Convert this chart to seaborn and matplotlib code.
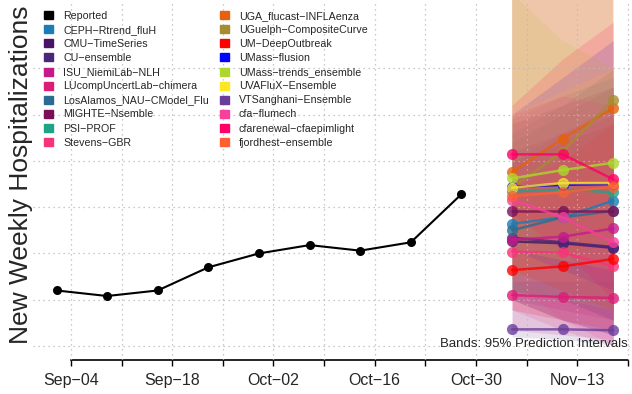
import pandas as pd
import seaborn as sns
import matplotlib.pyplot as plt
import matplotlib.dates as mdates
from matplotlib.patches import Patch

# observed weekly hospital admissions
report_dates = pd.date_range("2023-09-02", periods=9, freq="7D")
reported = [1600, 1540, 1600, 1850, 2000, 2090, 2030, 2120, 2640]

# forecast targets (1-3 weeks ahead)
forecast_dates = pd.to_datetime(["2023-11-04", "2023-11-11", "2023-11-18"])

models = [
    "CEPH-Rtrend_fluH", "CMU-TimeSeries", "CU-ensemble", "ISU_NiemiLab-NLH",
    "LUcompUncertLab-chimera", "LosAlamos_NAU-CModel_Flu", "MIGHTE-Nsemble",
    "PSI-PROF", "Stevens-GBR", "UGA_flucast-INFLAenza", "UGuelph-CompositeCurve",
    "UM-DeepOutbreak", "UMass-flusion", "UMass-trends_ensemble", "UVAFluX-Ensemble",
    "VTSanghani-Ensemble", "cfa-flumech", "cfarenewal-cfaepimlight", "fjordhest-ensemble",
]
model_colors = [
    "#1A7DB5", "#4A1466", "#482878", "#C51B8A",
    "#DD1C77", "#2C6C92", "#7A0F57",
    "#20A386", "#F7347A", "#E6610B", "#A88B30",
    "#FF0000", "#0000FF", "#ADD72E", "#FDE725",
    "#6A3D9A", "#F7409B", "#FF0066", "#FF5E33",
]

# median forecasts
medians = [
    [2320, 2390, 2570], [2130, 2110, 2060], [2170, 2120, 2070], [2150, 2180, 2270],
    [1550, 1530, 1520], [2250, 2390, 2460], [2460, 2460, 2460],
    [2670, 2690, 2660], [2020, 2010, 1860], [2880, 3240, 3570], [2710, 3100, 3660],
    [1820, 1860, 1940], [2720, 2740, 2750], [2810, 2900, 2980], [2710, 2760, 2760],
    [1180, 1180, 1170], [2580, 2390, 2120], [3070, 3070, 2800], [2620, 2660, 2720],
]

# 95% prediction interval bounds
lower95 = [
    [1600, 1500, 1280], [1500, 1280, 1120], [1500, 1280, 1120], [1500, 1390, 1280],
    [1170, 1120, 1070], [1600, 1500, 1280], [1820, 1600, 1390],
    [2150, 2040, 1930], [1390, 1170, 1010], [2250, 2420, 2580], [1710, 1930, 2250],
    [1390, 1280, 1170], [2040, 1820, 1600], [1600, 1500, 1390], [2040, 1930, 1820],
    [1100, 1070, 1010], [1710, 1280, 1010], [2420, 2040, 1500], [1820, 1600, 1390],
]
upper95 = [
    [3300, 3600, 3990], [3000, 3200, 3400], [3100, 3300, 3500], [3000, 3300, 3600],
    [2400, 2600, 2800], [3200, 3500, 3800], [3400, 3600, 3800],
    [3450, 3700, 3900], [2900, 3200, 3500], [5000, 6400, 10140], [5200, 6000, 9060],
    [2700, 3000, 3400], [3500, 3900, 4300], [4800, 4300, 4000], [3500, 3750, 4000],
    [1700, 1700, 1700], [3500, 3700, 3600], [3600, 4100, 4500], [4800, 5500, 6500],
]

week_ticks = pd.date_range("2023-09-04", "2023-11-20", freq="7D")
grid_levels = list(range(1000, 4001, 500))

sns.set_theme(style="white")
plt.rcParams["font.family"] = ["Liberation Sans", "DejaVu Sans"]

fig = plt.figure(figsize=(6.32, 3.94), dpi=100)
ax = fig.add_axes([33 / 632, 34 / 394, 1 - 33 / 632, 360 / 394])

# prediction bands first, then medians on top
for i in range(len(models)):
    ax.fill_between(forecast_dates, lower95[i], upper95[i],
                    color=model_colors[i], alpha=0.15, lw=0, zorder=1)

for i in range(len(models)):
    sns.lineplot(x=forecast_dates, y=medians[i], color=model_colors[i], lw=1.8,
                 alpha=0.8, marker="o", markersize=8, markeredgewidth=0,
                 ax=ax, zorder=3)

sns.lineplot(x=report_dates, y=reported, color="black", lw=1.5, marker="o",
             markersize=6.5, markeredgewidth=0, ax=ax, zorder=4)

ax.set_xlim(pd.Timestamp("2023-08-29 18:00"), pd.Timestamp("2023-11-20 14:00"))
ax.set_ylim(849, 4737)

labels = [f"{d:%b}\u2212{d:%d}" if k % 2 == 0 else "" for k, d in enumerate(week_ticks)]
ax.set_xticks(week_ticks)
ax.set_xticklabels(labels, fontsize=11.5)
ax.set_yticks(grid_levels)
ax.set_yticklabels([])
ax.tick_params(axis="y", length=0)
ax.tick_params(axis="x", bottom=True, length=4.5, width=1, color="black", pad=5)

for side in ["top", "right", "left"]:
    ax.spines[side].set_visible(False)
ax.spines["bottom"].set_color("black")
ax.spines["bottom"].set_linewidth(1.2)
ax.spines["bottom"].set_bounds(mdates.date2num(week_ticks[0]), mdates.date2num(week_ticks[-1]))

ax.set_axisbelow(False)
ax.grid(True, color="#b8b8b8", linestyle=(0, (1, 3)), lw=0.9, zorder=2)

ax.set_xlabel("")
ax.set_ylabel("New Weekly Hospitalizations", fontsize=19)
ax.yaxis.set_label_coords(0.0, 0.514)

ax.text(0.993, 0.044, "Bands: 95% Prediction Intervals", transform=ax.transAxes,
        ha="right", va="center", fontsize=9.5)

handles = [Patch(color="black", label="Reported")]
handles += [Patch(color=c, label=m.replace("-", "\u2212")) for m, c in zip(models, model_colors)]
ax.legend(handles=handles, loc="upper left", bbox_to_anchor=(44 / 632, 1 - 11 / 394),
          bbox_transform=fig.transFigure, ncol=2, frameon=False, fontsize=7.7,
          handlelength=0.85, handleheight=0.78, handletextpad=0.95, columnspacing=1.0,
          labelspacing=0.38, borderpad=0, borderaxespad=0)

fig.savefig("out.png", dpi=100)
